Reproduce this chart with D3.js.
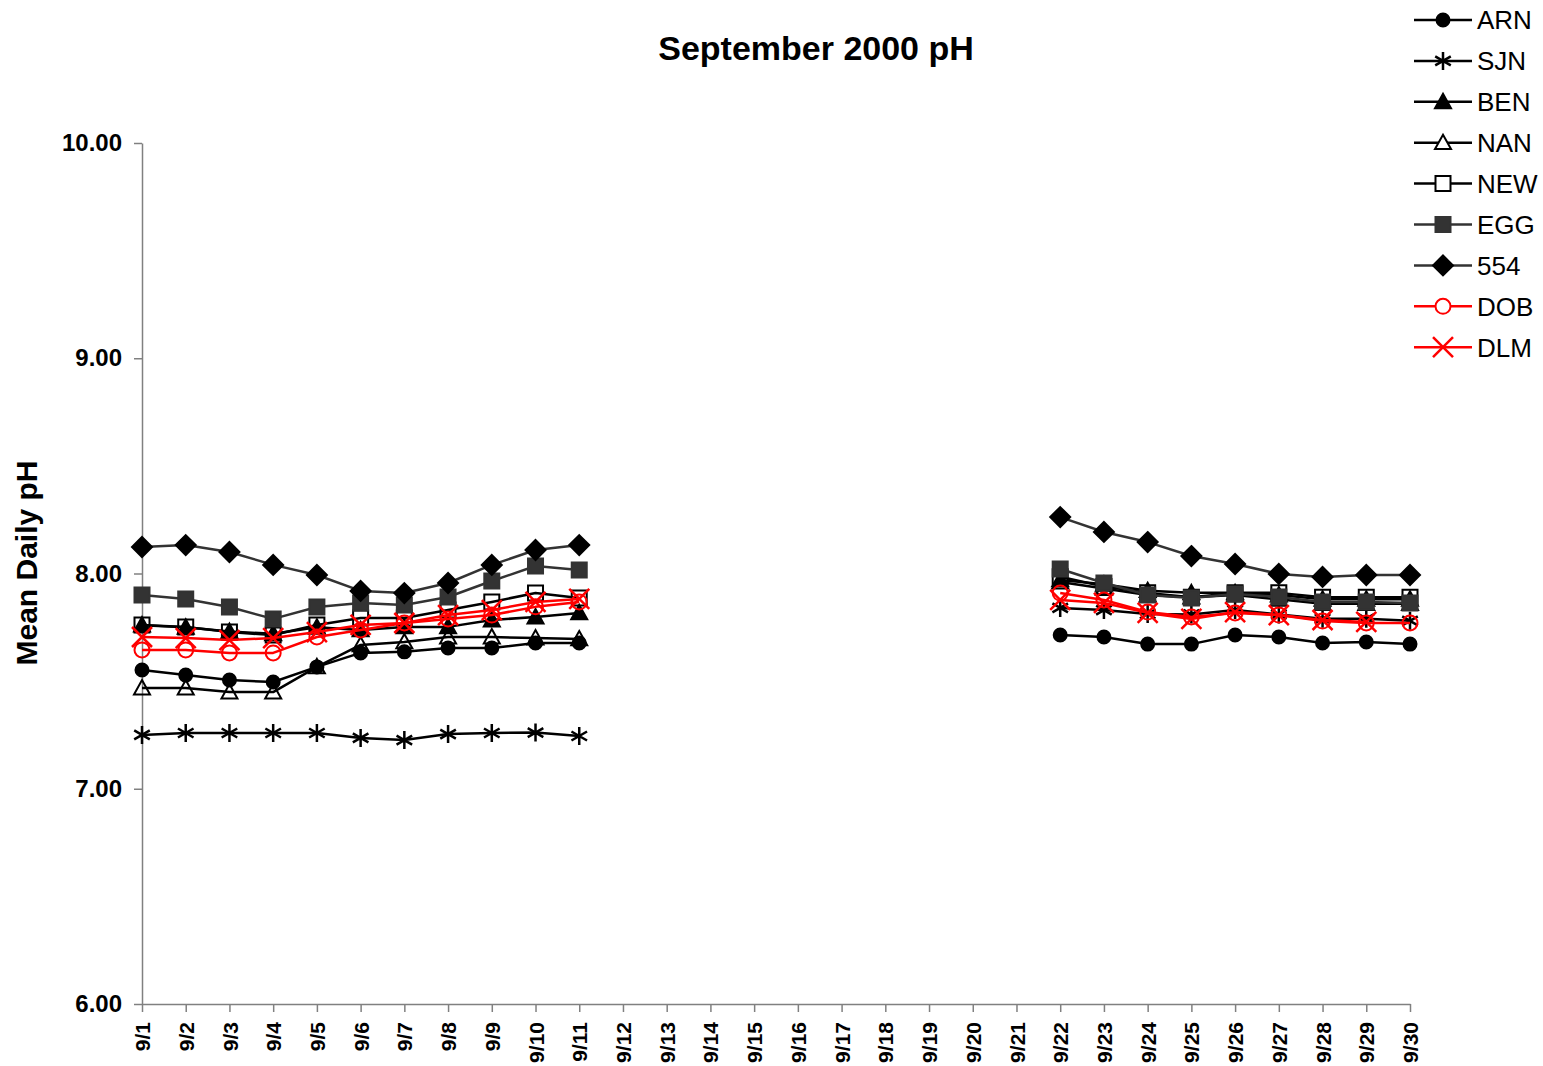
<!DOCTYPE html>
<html>
<head>
<meta charset="utf-8">
<script src="https://cdn.jsdelivr.net/npm/d3@7"></script>
<style>
  html, body { margin: 0; padding: 0; background: #fff; }
  svg { display: block; font-family: "Liberation Sans", Arial, sans-serif; }
</style>
</head>
<body>
<svg id="chart" width="1543" height="1066"></svg>
<script>
// ---- data ----
const dates = ["9/1","9/2","9/3","9/4","9/5","9/6","9/7","9/8","9/9","9/10","9/11","9/12","9/13","9/14","9/15",
  "9/16","9/17","9/18","9/19","9/20","9/21","9/22","9/23","9/24","9/25","9/26","9/27","9/28","9/29","9/30"];
const yTicks = [6, 7, 8, 9, 10];
const seriesNames = ["ARN","SJN","BEN","NAN","NEW","EGG","554","DOB","DLM"];
const _ = null;
const ARN = [7.552,7.528,7.505,7.496,7.566,7.631,7.636,7.654,7.654,7.677,7.677, _,_,_,_,_,_,_,_,_,_,
  7.714,7.705,7.672,7.672,7.714,7.705,7.677,7.682,7.672];
const SJN = [7.250,7.259,7.259,7.259,7.259,7.236,7.226,7.254,7.259,7.261,7.245, _,_,_,_,_,_,_,_,_,_,
  7.840,7.830,7.812,7.810,7.830,7.810,7.790,7.790,7.780];
const BEN = [7.760,7.750,7.730,7.720,7.750,7.738,7.752,7.752,7.784,7.798,7.817, _,_,_,_,_,_,_,_,_,_,
  7.970,7.950,7.920,7.910,7.910,7.900,7.880,7.880,7.880];
const NAN = [7.468,7.468,7.449,7.449,7.566,7.668,7.682,7.705,7.705,7.700,7.696, _,_,_,_,_,_,_,_,_,_,
  7.960,7.930,7.900,7.890,7.900,7.880,7.860,7.860,7.860];
const NEW = [7.761,7.751,7.728,7.714,7.761,7.793,7.793,7.830,7.868,7.909,7.886, _,_,_,_,_,_,_,_,_,_,
  7.985,7.940,7.910,7.890,7.910,7.910,7.890,7.890,7.890];
const EGG = [7.900,7.882,7.844,7.789,7.844,7.863,7.854,7.891,7.965,8.035,8.016, _,_,_,_,_,_,_,_,_,_,
  8.021,7.956,7.900,7.886,7.905,7.891,7.868,7.868,7.863];
const S554 = [8.123,8.132,8.100,8.040,7.993,7.919,7.909,7.956,8.040,8.109,8.132, _,_,_,_,_,_,_,_,_,_,
  8.262,8.193,8.146,8.081,8.044,7.998,7.984,7.993,7.993];
const DOB = [7.645,7.645,7.631,7.631,7.705,7.738,7.770,7.789,7.807,7.845,7.868, _,_,_,_,_,_,_,_,_,_,
  7.909,7.877,7.821,7.798,7.817,7.807,7.779,7.770,7.770];
const DLM = [7.705,7.700,7.691,7.700,7.728,7.761,7.770,7.807,7.830,7.868,7.882, _,_,_,_,_,_,_,_,_,_,
  7.877,7.863,7.817,7.789,7.821,7.807,7.784,7.775, _];
const seriesValues = [ARN, SJN, BEN, NAN, NEW, EGG, S554, DOB, DLM];

// ---- styles ----
const styles = {
  ARN: {line: "#000", marker: "circle", fill: "#000", stroke: "#000"},
  SJN: {line: "#000", marker: "asterisk", fill: "none", stroke: "#000"},
  BEN: {line: "#000", marker: "triangle", fill: "#000", stroke: "#000"},
  NAN: {line: "#000", marker: "triangle", fill: "none", stroke: "#000"},
  NEW: {line: "#000", marker: "square", fill: "none", stroke: "#000"},
  EGG: {line: "#333", marker: "square", fill: "#333", stroke: "#333"},
  "554": {line: "#333", marker: "diamond", fill: "#000", stroke: "#000"},
  DOB: {line: "#ff0000", marker: "circle", fill: "none", stroke: "#ff0000", r: 7.5},
  DLM: {line: "#ff0000", marker: "x", fill: "none", stroke: "#ff0000"}
};

function markerPath(type, st) {
  switch (type) {
    case "circle": { const r = st.r || 6.5; return `M${-r},0A${r},${r} 0 1,0 ${r},0A${r},${r} 0 1,0 ${-r},0Z`; }
    case "square": { const h = 7.5; return `M${-h},${-h}H${h}V${h}H${-h}Z`; }
    case "diamond": { const h = 10; return `M0,${-h}L${h},0L0,${h}L${-h},0Z`; }
    case "triangle": { const h = 8; return `M0,${-h}L${h},${h*0.8}L${-h},${h*0.8}Z`; }
    case "asterisk": { const r = 9, a = r*Math.cos(Math.PI/6), b = r*Math.sin(Math.PI/6);
      return `M0,${-r}V${r}M${-a},${-b}L${a},${b}M${-a},${b}L${a},${-b}`; }
    case "x": { const h = 10; return `M${-h},${-h}L${h},${h}M${-h},${h}L${h},${-h}`; }
  }
}

// ---- chart ----
const svg = d3.select("#chart");
const x = d3.scalePoint().domain(dates).range([142, 1410]);
const y = d3.scaleLinear().domain([6, 10]).range([1004, 143]);

// title
svg.append("text").attr("x", 816).attr("y", 60).attr("text-anchor", "middle")
  .style("font-size", "34px").style("font-weight", "bold").text("September 2000 pH");

// y label
svg.append("text").attr("transform", "translate(37,563) rotate(-90)").attr("text-anchor", "middle")
  .style("font-size", "30px").style("font-weight", "bold").text("Mean Daily pH");

// y axis
const yAxis = svg.append("g").attr("transform", "translate(142,0)")
  .call(d3.axisLeft(y).tickValues(yTicks).tickFormat(d3.format(".2f")).tickSize(8).tickPadding(12).tickSizeOuter(0));
yAxis.select(".domain").attr("stroke", "#808080").attr("stroke-width", 1.5);
yAxis.selectAll(".tick line").attr("stroke", "#808080").attr("stroke-width", 1.5);
yAxis.selectAll(".tick text").style("font-size", "24px").style("font-weight", "bold")
  .style("font-family", "'Liberation Sans', Arial, sans-serif").attr("fill", "#000");

// x axis
const xAxis = svg.append("g").attr("transform", "translate(0,1004)")
  .call(d3.axisBottom(x).tickSize(8).tickSizeOuter(0));
xAxis.select(".domain").attr("stroke", "#808080").attr("stroke-width", 1.5);
xAxis.selectAll(".tick line").attr("stroke", "#808080").attr("stroke-width", 1.5);
xAxis.selectAll(".tick text")
  .attr("transform", "rotate(-90)").attr("text-anchor", "end")
  .attr("x", -18).attr("y", 0).attr("dy", "0.36em")
  .style("font-size", "21px").style("font-weight", "bold")
  .style("font-family", "'Liberation Sans', Arial, sans-serif").attr("fill", "#000");

// series
const lineGen = d3.line().defined(d => d.v !== null).x(d => x(d.date)).y(d => y(d.v));
seriesNames.forEach((name, i) => {
  const st = styles[name];
  const pts = dates.map((dt, j) => ({date: dt, v: seriesValues[i][j]}));
  const g = svg.append("g").attr("class", "series-" + name);
  g.append("path").datum(pts).attr("d", lineGen).attr("fill", "none")
    .attr("stroke", st.line).attr("stroke-width", 2.5).attr("stroke-linejoin", "round");
  g.selectAll("path.mk").data(pts.filter(d => d.v !== null)).enter().append("path").attr("class", "mk")
    .attr("transform", d => `translate(${x(d.date)},${y(d.v)})`)
    .attr("d", markerPath(st.marker, st))
    .attr("fill", st.fill).attr("stroke", st.stroke)
    .attr("stroke-width", (st.marker === "asterisk" || st.marker === "x") ? 2.5 : 2);
});

// legend
const lg = svg.append("g");
seriesNames.forEach((name, i) => {
  const st = styles[name];
  const cy = 20 + i * 40.9;
  lg.append("line").attr("x1", 1414).attr("x2", 1472).attr("y1", cy).attr("y2", cy)
    .attr("stroke", st.line).attr("stroke-width", 2.5);
  lg.append("path").attr("transform", `translate(1443,${cy})`).attr("d", markerPath(st.marker, st))
    .attr("fill", st.fill === "none" ? "#fff" : st.fill).attr("stroke", st.stroke)
    .attr("stroke-width", (st.marker === "asterisk" || st.marker === "x") ? 2.5 : 2);
  lg.append("text").attr("x", 1477).attr("y", cy).attr("dy", "0.36em")
    .style("font-size", "26px").text(name);
});
</script>
</body>
</html>
